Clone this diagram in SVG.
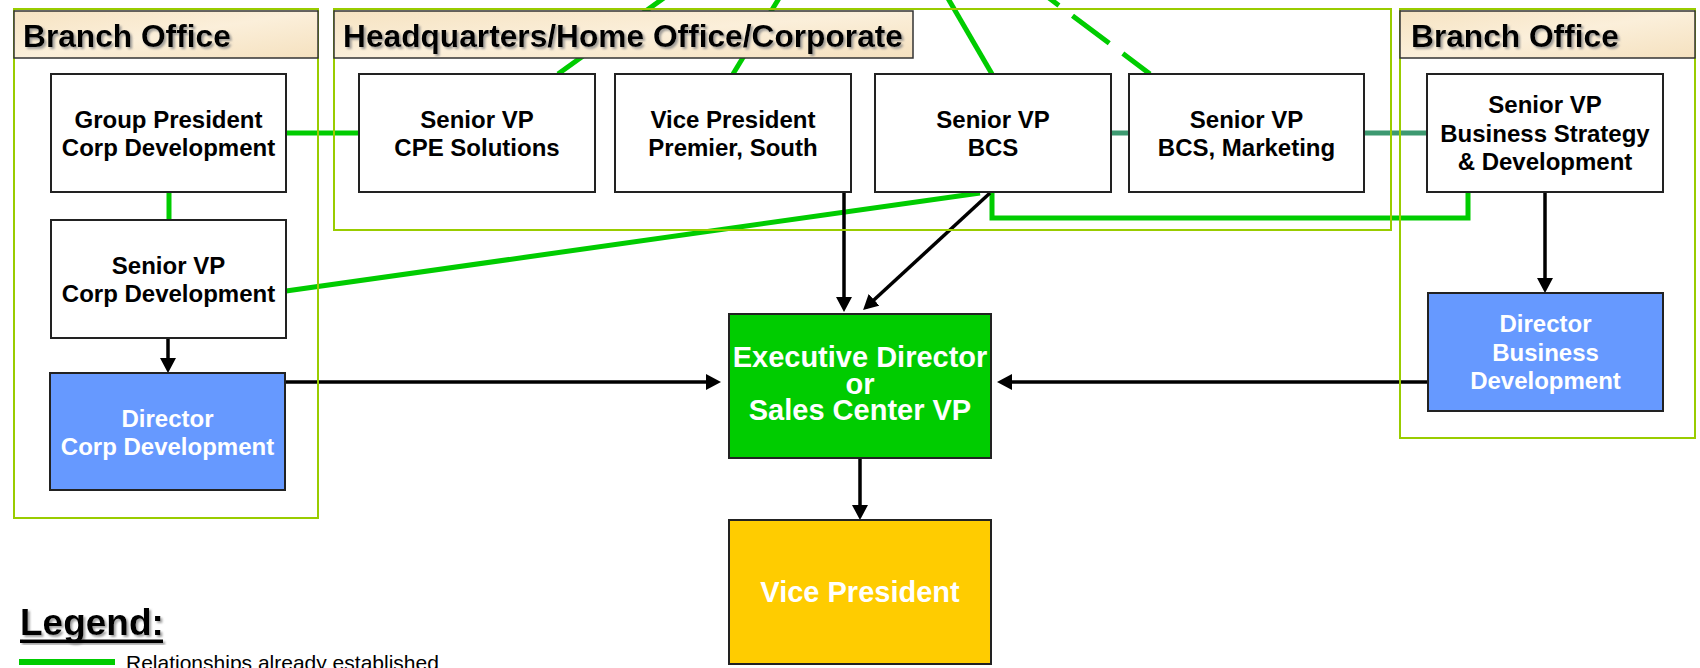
<svg xmlns="http://www.w3.org/2000/svg" width="1700" height="668" viewBox="0 0 1700 668">
<defs>
<style>
.frame{fill:none;stroke:#99CC00;stroke-width:2}
.hdr{stroke:#333;stroke-width:1.5;fill:url(#parch)}
.htxt{font-family:"Liberation Sans",Arial,sans-serif;font-weight:bold;font-size:31.7px;fill:#000;filter:url(#shadow)}
.box{fill:#fff;stroke:#222;stroke-width:2}
.blue{fill:#6699FF;stroke:#222;stroke-width:2}
.green{fill:#00CC00;stroke:#222;stroke-width:2}
.yellow{fill:#FFCC00;stroke:#222;stroke-width:2}
.t{font-family:"Liberation Sans",Arial,sans-serif;font-weight:bold;font-size:24px;fill:#000;text-anchor:middle}
.tw{font-family:"Liberation Sans",Arial,sans-serif;font-weight:bold;font-size:24px;fill:#fff;text-anchor:middle}
.tb{font-family:"Liberation Sans",Arial,sans-serif;font-weight:bold;font-size:29px;fill:#fff;text-anchor:middle}
.rel{fill:none;stroke:#00CC00;stroke-width:5}
.dash{stroke-dasharray:46 17;stroke-dashoffset:12}
.teal{fill:none;stroke:#3D9970;stroke-width:5}
.rep{fill:none;stroke:#000;stroke-width:3.5;marker-end:url(#arr)}
</style>
<linearGradient id="parch" x1="0" y1="0" x2="1" y2="1">
<stop offset="0" stop-color="#F6E3C2"/>
<stop offset="0.5" stop-color="#FBEFDA"/>
<stop offset="1" stop-color="#F5E1BF"/>
</linearGradient>
<filter id="shadow" x="-5%" y="-20%" width="110%" height="150%">
<feDropShadow dx="2" dy="2" stdDeviation="1" flood-color="#888" flood-opacity="0.8"/>
</filter>
<marker id="arr" markerUnits="userSpaceOnUse" markerWidth="15" markerHeight="16" refX="11" refY="8" orient="auto" viewBox="0 0 15 16">
<path d="M0,0 L15,8 L0,16 z" fill="#000"/>
</marker>
</defs>
<rect width="1700" height="668" fill="#fff"/>

<g id="connectors">
<path class="teal" d="M1111 133 H1427"/>
<path class="rel" d="M286 133 H359"/>
<path class="rel" d="M169 192 V220"/>
<path class="rel" d="M286 291 L980 193"/>
<path class="rel" d="M992 192 V218 H1468 V192"/>
<path class="rel" d="M558 74 L668 -5"/>
<path class="rel" d="M733 74 L781 -5"/>
<path class="rel" d="M992 74 L946 -5"/>
<path class="rel dash" d="M1150 74 L1045 -5"/>
<path class="rep" d="M844 192 V308"/>
<path class="rep" d="M990 193 L866 307.3"/>
<path class="rep" d="M286 382 H717"/>
<path class="rep" d="M1428 382 H1001"/>
<path class="rep" d="M860 458 V516"/>
<path class="rep" d="M1545 192 V289"/>
<path class="rep" d="M168 339 V369"/>
</g>

<g id="branch-left">
<rect class="frame" x="14" y="9" width="304" height="509"/>
<rect class="hdr" x="14" y="11" width="304" height="47"/>
<text class="htxt" x="23" y="47">Branch Office</text>
</g>
<g id="headquarters">
<rect class="frame" x="334" y="9" width="1057" height="221"/>
<rect class="hdr" x="334" y="11" width="579" height="47"/>
<text class="htxt" x="343" y="47">Headquarters/Home Office/Corporate</text>
</g>
<g id="branch-right">
<rect class="frame" x="1400" y="9" width="295" height="429"/>
<rect class="hdr" x="1400" y="11" width="295" height="47"/>
<text class="htxt" x="1411" y="47">Branch Office</text>
</g>

<g id="group-president">
<rect class="box" x="51" y="74" width="235" height="118"/>
<text class="t" x="168.5" y="128">Group President</text>
<text class="t" x="168.5" y="156">Corp Development</text>
</g>
<g id="svp-corp-dev">
<rect class="box" x="51" y="220" width="235" height="118"/>
<text class="t" x="168.5" y="273.5">Senior VP</text>
<text class="t" x="168.5" y="301.5">Corp Development</text>
</g>
<g id="dir-corp-dev">
<rect class="blue" x="50" y="373" width="235" height="117"/>
<text class="tw" x="167.5" y="427">Director</text>
<text class="tw" x="167.5" y="455">Corp Development</text>
</g>
<g id="svp-cpe">
<rect class="box" x="359" y="74" width="236" height="118"/>
<text class="t" x="477" y="128">Senior VP</text>
<text class="t" x="477" y="156">CPE Solutions</text>
</g>
<g id="vp-premier">
<rect class="box" x="615" y="74" width="236" height="118"/>
<text class="t" x="733" y="128">Vice President</text>
<text class="t" x="733" y="156">Premier, South</text>
</g>
<g id="svp-bcs">
<rect class="box" x="875" y="74" width="236" height="118"/>
<text class="t" x="993" y="128">Senior VP</text>
<text class="t" x="993" y="156">BCS</text>
</g>
<g id="svp-bcs-marketing">
<rect class="box" x="1129" y="74" width="235" height="118"/>
<text class="t" x="1246.5" y="128">Senior VP</text>
<text class="t" x="1246.5" y="156">BCS, Marketing</text>
</g>
<g id="svp-biz-strategy">
<rect class="box" x="1427" y="74" width="236" height="118"/>
<text class="t" x="1545" y="113">Senior VP</text>
<text class="t" x="1545" y="141.5">Business Strategy</text>
<text class="t" x="1545" y="170">&amp; Development</text>
</g>
<g id="dir-biz-dev">
<rect class="blue" x="1428" y="293" width="235" height="118"/>
<text class="tw" x="1545.5" y="332">Director</text>
<text class="tw" x="1545.5" y="360.5">Business</text>
<text class="tw" x="1545.5" y="389">Development</text>
</g>
<g id="exec-director">
<rect class="green" x="729" y="314" width="262" height="144"/>
<text class="tb" x="860" y="367">Executive Director</text>
<text class="tb" x="860" y="393.5">or</text>
<text class="tb" x="860" y="420">Sales Center VP</text>
</g>
<g id="vice-president">
<rect class="yellow" x="729" y="520" width="262" height="144"/>
<text class="tb" x="860" y="602">Vice President</text>
</g>

<g id="legend">
<text x="20" y="635" style="font-family:'Liberation Sans',Arial,sans-serif;font-weight:bold;font-size:37px;fill:#000;filter:url(#shadow)">Legend:</text>
<rect x="20" y="639.5" width="143" height="3.5" fill="#000" filter="url(#shadow)"/>
<path d="M19 662 H115" stroke="#00CC00" stroke-width="6" fill="none"/>
<text x="126" y="670" style="font-family:'Liberation Sans',Arial,sans-serif;font-size:21px;fill:#000">Relationships already established</text>
</g>
</svg>
